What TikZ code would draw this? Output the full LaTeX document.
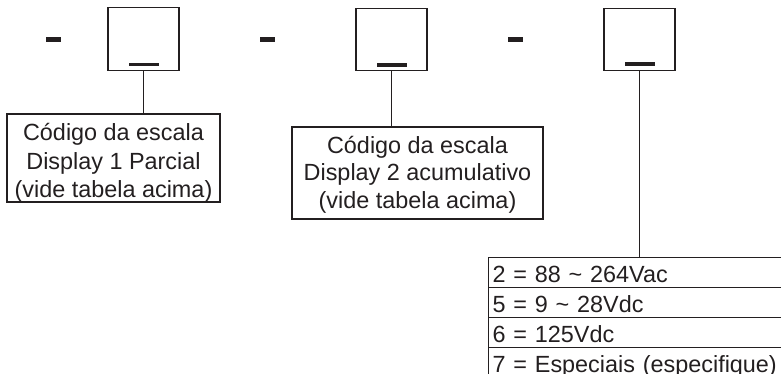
\documentclass[tikz,border=0pt]{standalone}
\usepackage{fontspec}
\setmainfont{Liberation Sans}
\definecolor{ink}{HTML}{231F20}
\begin{document}
\begin{tikzpicture}[x=0.5bp,y=-0.5bp,
  dashmark/.style={fill=ink,draw=none,minimum width=7.5bp,minimum height=2.5bp,inner sep=0pt},
  digitbox/.style={draw=ink,line width=0.65bp,minimum width=35.5bp,minimum height=31.25bp,inner sep=0pt},
  barmark/.style={fill=ink,draw=none,minimum width=15bp,minimum height=1.8bp,inner sep=0pt},
  labelbox/.style={draw=ink,line width=0.65bp,inner sep=0pt},
  conn/.style={draw=ink,line width=0.65bp},
  txt/.style={font=\fontsize{11.7bp}{14bp}\selectfont,text=ink,inner sep=0pt,anchor=base},
  tablerow/.style={draw=ink,line width=0.65bp,anchor=north west,inner xsep=2bp,inner ysep=0pt,
    text width=152bp,align=left,text height=12.5bp,text depth=2.5bp,
    font=\fontsize{11.7bp}{14bp}\selectfont,text=ink}]
\useasboundingbox (0,0) rectangle (781,374);
\clip (0,0) rectangle (781,374);
% dashes
\node[dashmark] (m1) at (53.5,39.5) {};
\node[dashmark] (m2) at (267.5,39.5) {};
\node[dashmark] (m3) at (515.5,39.5) {};
% digit boxes
\node[digitbox] (b1) at (143.5,39) {};
\node[digitbox] (b2) at (391.5,39.5) {};
\node[digitbox] (b3) at (639.5,39.5) {};
% bars
\node[barmark] (r1) at ([yshift=3.2bp]b1.south) {};
\node[barmark] (r2) at ([yshift=3.2bp]b2.south) {};
\node[barmark] (r3) at ([yshift=3.8bp]b3.south) {};
% label boxes
\node[labelbox,minimum width=106.5bp,minimum height=44bp] (l1) at (113.5,158) {};
\node[labelbox,minimum width=125.5bp,minimum height=46bp] (l2) at (417.5,173) {};
\node[txt] (l1a) at (113.5,141) {Código da escala};
\node[txt] (l1b) at (113.5,169.5) {Display 1 Parcial};
\node[txt] (l1c) at (113.5,198) {(vide tabela acima)};
\node[txt] (l2a) at (417.5,153.5) {Código da escala};
\node[txt] (l2b) at (417.5,181) {Display 2 acumulativo};
\node[txt] (l2c) at (417.5,208.5) {(vide tabela acima)};
% table
\node[tablerow] (t1) at (488,257) {2 = 88 \textasciitilde{} 264Vac};
\node[tablerow] (t2) at (488,287) {5 = 9 \textasciitilde{} 28Vdc};
\node[tablerow] (t3) at (488,317) {6 = 125Vdc};
\node[tablerow] (t4) at (488,347) {7 = Especiais (especifique)};
% connectors
\draw[conn] (b1.south) -- (b1.south |- l1.north);
\draw[conn] (b2.south) -- (b2.south |- l2.north);
\draw[conn] (b3.south) -- (b3.south |- t1.north);
\end{tikzpicture}
\end{document}
